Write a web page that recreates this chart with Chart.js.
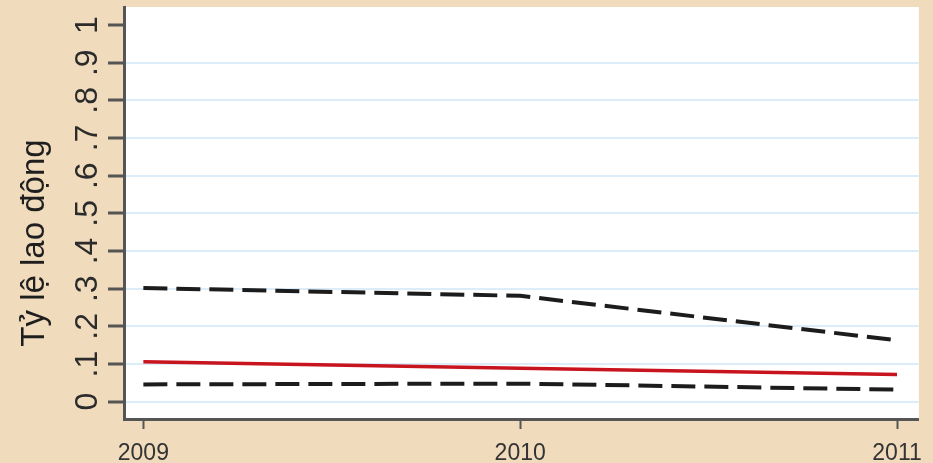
<!DOCTYPE html>
<html>
<head>
<meta charset="utf-8">
<script src="https://cdn.jsdelivr.net/npm/chart.js@4.4.1/dist/chart.umd.min.js"></script>
<style>
  html, body { margin: 0; padding: 0; background: #f0dbbc; }
  #wrap { width: 933px; height: 463px; position: relative; }
</style>
</head>
<body>
<div id="wrap"><canvas id="laborChart"></canvas></div>
<script>
// Data
const years = [2009, 2010, 2011];
const yearLabels = ['2009', '2010', '2011'];
const upperDashed = [0.302, 0.281, 0.163];
const redLine = [0.106, 0.089, 0.072];
const lowerDashed = [0.046, 0.048, 0.032];
const yTicks = [0, 0.1, 0.2, 0.3, 0.4, 0.5, 0.6, 0.7, 0.8, 0.9, 1];
const yTickLabels = ['0', '.1', '.2', '.3', '.4', '.5', '.6', '.7', '.8', '.9', '1'];
const yTitle = 'Tỷ lệ lao động';

const toPoints = arr => years.map((yr, i) => ({ x: yr, y: arr[i] }));

// white plot area, rotated y labels and axis title
const stataLook = {
    id: 'stataLook',
    beforeDraw(chart) {
        const { ctx, chartArea } = chart;
        ctx.save();
        ctx.fillStyle = '#ffffff';
        ctx.fillRect(chartArea.left, chartArea.top, chartArea.right - chartArea.left, chartArea.bottom - chartArea.top);
        ctx.restore();
    },
    afterDraw(chart) {
        const { ctx } = chart;
        const yScale = chart.scales.y;
        ctx.save();
        ctx.fillStyle = '#2b2b2b';
        ctx.font = '32px "Liberation Sans", Arial, sans-serif';
        ctx.textAlign = 'center';
        ctx.textBaseline = 'alphabetic';
        yTicks.forEach((v, i) => {
            const py = yScale.getPixelForValue(v);
            ctx.save();
            ctx.translate(97, py);
            ctx.rotate(-Math.PI / 2);
            ctx.fillText(yTickLabels[i], 0, 0);
            ctx.restore();
        });
        // axis title
        ctx.fillStyle = '#1e1e1e';
        ctx.font = '33px "Liberation Sans", Arial, sans-serif';
        ctx.translate(44, 243);
        ctx.rotate(-Math.PI / 2);
        ctx.fillText(yTitle, 0, 0);
        ctx.restore();
    }
};

const ctx = document.getElementById('laborChart').getContext('2d');
const laborChart = new Chart(ctx, {
    type: 'line',
    data: {
        datasets: [
            {
                data: toPoints(upperDashed),
                borderColor: '#1c1c1c',
                borderWidth: 4,
                borderDash: [24, 9],
                pointRadius: 0,
                tension: 0
            },
            {
                data: toPoints(redLine),
                borderColor: '#c8141e',
                borderWidth: 3.5,
                pointRadius: 0,
                tension: 0
            },
            {
                data: toPoints(lowerDashed),
                borderColor: '#1c1c1c',
                borderWidth: 4,
                borderDash: [24, 9],
                pointRadius: 0,
                tension: 0
            }
        ]
    },
    options: {
        responsive: true,
        maintainAspectRatio: false,
        animation: false,
        layout: { padding: { top: 7, right: 9, left: 0, bottom: 0 } },
        plugins: {
            legend: { display: false },
            tooltip: { enabled: false }
        },
        scales: {
            x: {
                type: 'linear',
                min: 2008.9486,
                max: 2011.058,
                afterBuildTicks: scale => { scale.ticks = years.map(v => ({ value: v })); },
                afterFit: scale => { scale.height = 44; },
                grid: {
                    drawOnChartArea: false,
                    drawTicks: true,
                    tickLength: 10,
                    tickColor: '#555555',
                    tickWidth: 2
                },
                border: { display: true, color: '#555555', width: 3 },
                ticks: {
                    color: '#333333',
                    font: { size: 23, family: '"Liberation Sans", Arial, sans-serif' },
                    padding: 11,
                    maxRotation: 0,
                    autoSkip: false,
                    callback: (value) => yearLabels[years.indexOf(value)]
                }
            },
            y: {
                min: -0.0459,
                max: 1.0478,
                afterBuildTicks: scale => { scale.ticks = yTicks.map(v => ({ value: v })); },
                afterFit: scale => { scale.width = 124; },
                grid: {
                    color: c => (c.tick && c.tick.value === 1 ? 'rgba(0,0,0,0)' : '#dcedf9'),
                    lineWidth: 2,
                    drawTicks: true,
                    tickLength: 16,
                    tickColor: '#555555',
                    tickWidth: 3
                },
                border: { display: true, color: '#555555', width: 3 },
                ticks: { display: false }
            }
        }
    },
    plugins: [stataLook]
});
</script>
</body>
</html>
